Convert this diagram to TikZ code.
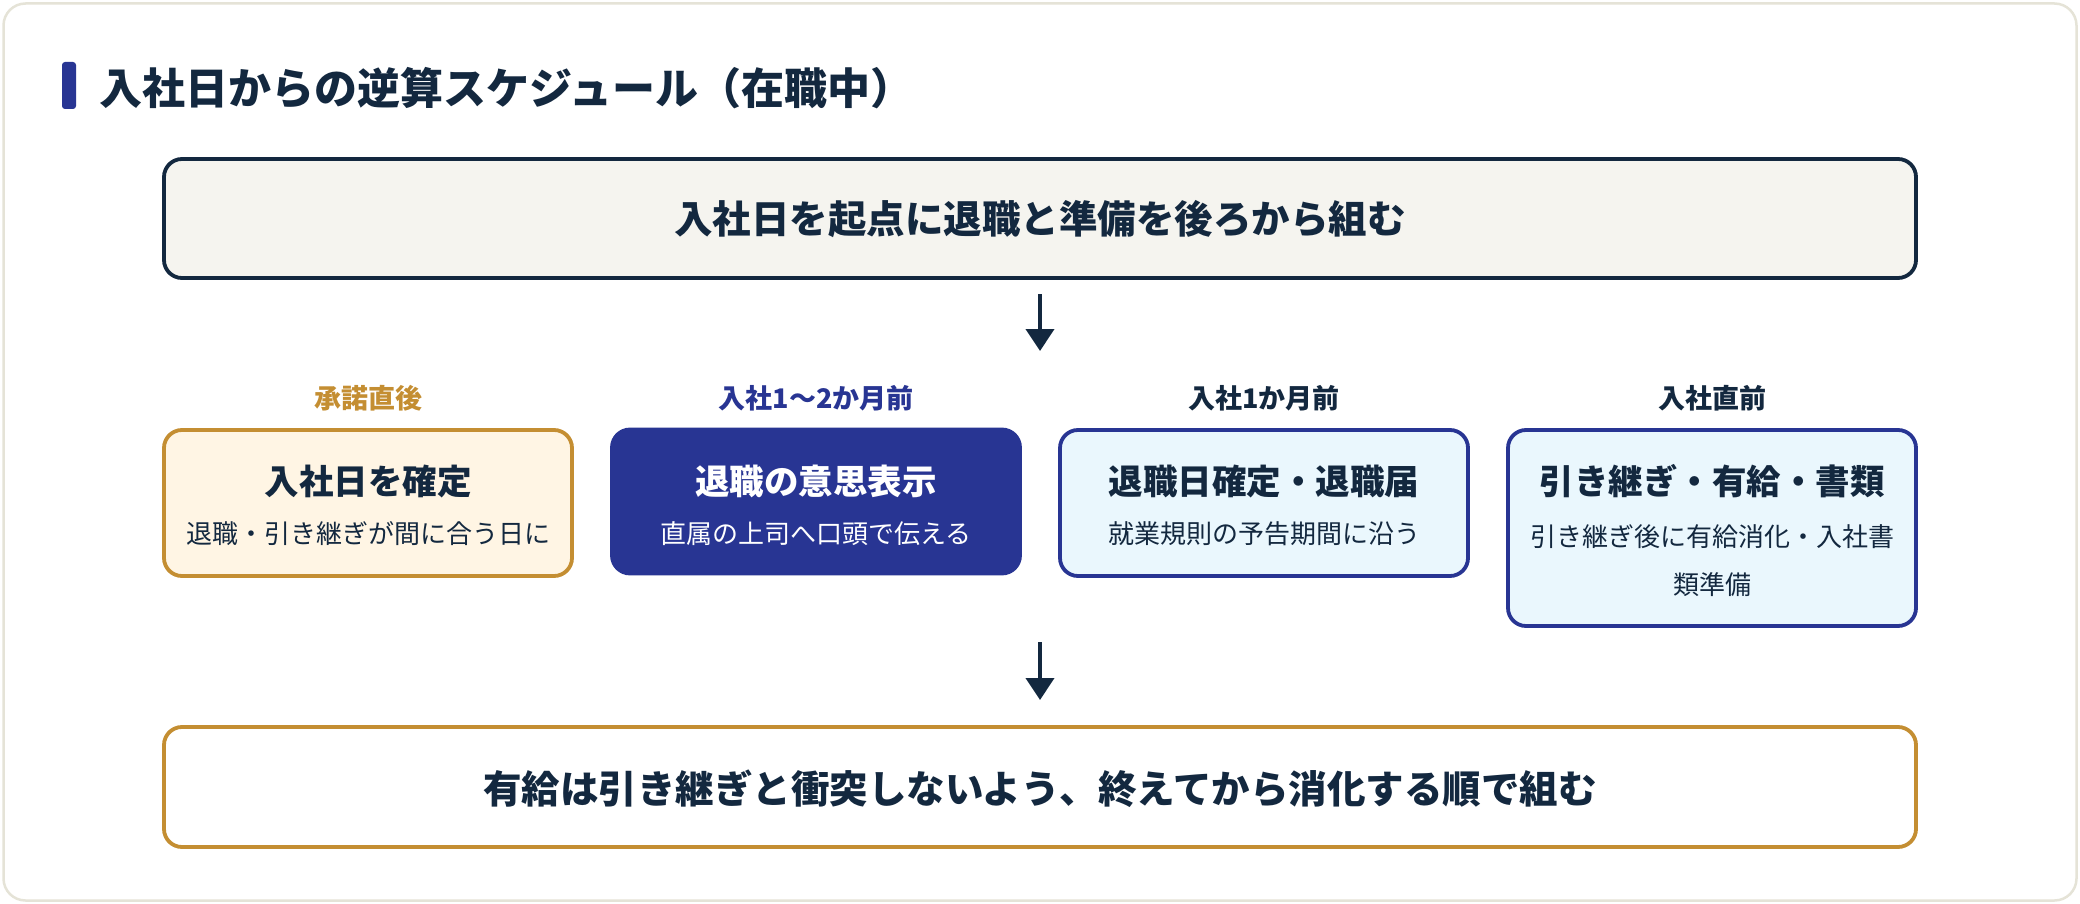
\documentclass[tikz,border=0pt]{standalone}
\usepackage{fontspec}
\setmainfont{Noto Sans CJK JP}
\usetikzlibrary{arrows.meta}
\definecolor{navy}{HTML}{13283F}
\definecolor{indigo}{HTML}{283593}
\definecolor{gold}{HTML}{C48E32}
\definecolor{creamfill}{HTML}{FFF5E4}
\definecolor{cyanfill}{HTML}{EAF7FD}
\definecolor{topfill}{HTML}{F5F4EF}
\definecolor{cardline}{HTML}{E5E3D7}
\begin{document}
\begin{tikzpicture}[x=1pt,y=-1pt,
  box/.style={rectangle,rounded corners=18pt,line width=3.8pt,inner sep=0pt,minimum width=408pt},
  stagebox/.style={box,minimum height=146pt},
  lbl/.style={inner sep=0pt,font=\fontsize{27}{32}\selectfont\bfseries},
  ttl/.style={inner sep=0pt,font=\fontsize{34.5}{40}\selectfont\bfseries},
  sub/.style={inner sep=0pt,align=center,font=\fontsize{26}{48}\selectfont},
  big/.style={inner sep=0pt,text=navy,font=\fontsize{38.5}{44}\selectfont\bfseries},
  arr/.style={draw=navy,line width=4pt,-{Triangle[length=22pt,width=28pt]}}
]
\useasboundingbox (0,0) rectangle (2080,904);
\node[rectangle,rounded corners=22pt,draw=cardline,line width=2.5pt,fill=white,minimum width=2073pt,minimum height=897pt,inner sep=0pt] (card) at (1040,452) {};
% title
\node[rectangle,fill=indigo,rounded corners=3pt,minimum width=14pt,minimum height=47pt,inner sep=0pt] (bar) at (69,85.5) {};
\node[anchor=west,inner sep=0pt,text=navy,font=\fontsize{43}{50}\selectfont\bfseries] (title) at (99,88) {入社日からの逆算スケジュール（在職中）};
% top box
\node[box,draw=navy,fill=topfill,minimum width=1752pt,minimum height=119pt] (top) at (1040,218.5) {};
\node[big] (toptext) at (1040,219) {入社日を起点に退職と準備を後ろから組む};
% arrow 1
\coordinate (a1s) at (1040,294);
\coordinate (a1e) at (1040,351);
\draw[arr] (a1s) -- (a1e);
% labels
\node[lbl,text=gold] (l1) at (368,398) {承諾直後};
\node[lbl,text=indigo] (l2) at (816,398) {入社1〜2か月前};
\node[lbl,text=navy] (l3) at (1264,398) {入社1か月前};
\node[lbl,text=navy] (l4) at (1712,398) {入社直前};
% stage boxes
\node[stagebox,draw=gold,fill=creamfill] (b1) at (368,503) {};
\node[stagebox,draw=indigo,fill=indigo,minimum height=144pt] (b2) at (816,501.5) {};
\node[stagebox,draw=indigo,fill=cyanfill] (b3) at (1264,503) {};
\node[box,draw=indigo,fill=cyanfill,minimum height=196pt] (b4) at (1712,528) {};
% stage texts
\node[ttl,text=navy] (t1) at (368,481) {入社日を確定};
\node[sub,text=navy] (s1) at (368,534) {退職・引き継ぎが間に合う日に};
\node[ttl,text=white] (t2) at (816,481) {退職の意思表示};
\node[sub,text=white] (s2) at (816,534) {直属の上司へ口頭で伝える};
\node[ttl,text=navy] (t3) at (1264,481) {退職日確定・退職届};
\node[sub,text=navy] (s3) at (1264,534) {就業規則の予告期間に沿う};
\node[ttl,text=navy] (t4) at (1712,481) {引き継ぎ・有給・書類};
\node[sub,text=navy] (s4) at (1712,561) {引き継ぎ後に有給消化・入社書\\類準備};
% arrow 2
\coordinate (a2s) at (1040,642);
\coordinate (a2e) at (1040,700);
\draw[arr] (a2s) -- (a2e);
% bottom box
\node[box,draw=gold,fill=white,minimum width=1752pt,minimum height=120pt] (bottom) at (1040,787) {};
\node[big] (bottomtext) at (1040,789) {有給は引き継ぎと衝突しないよう、終えてから消化する順で組む};
\end{tikzpicture}
\end{document}
